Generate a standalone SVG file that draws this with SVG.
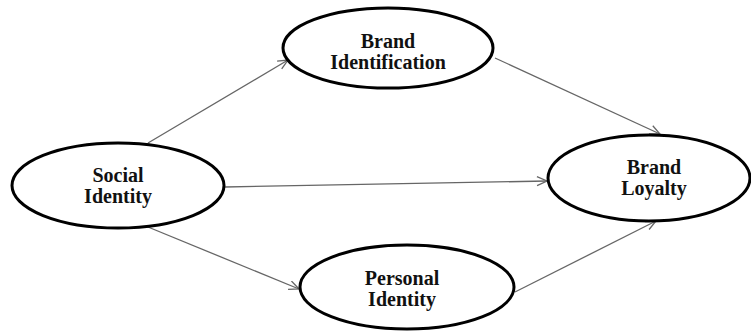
<svg xmlns="http://www.w3.org/2000/svg" width="751" height="331" viewBox="0 0 751 331">
<style>
.node ellipse{fill:#fff;stroke:#000;stroke-width:3}
.node text{font-family:"Liberation Serif","Times New Roman",serif;font-weight:bold;font-size:20px;fill:#111;text-anchor:middle}
.conn line{stroke:#666;stroke-width:1.3;marker-end:url(#arr)}
</style>
<defs>
<marker id="arr" markerUnits="userSpaceOnUse" markerWidth="12" markerHeight="12" refX="11" refY="5" orient="auto">
<path d="M1,0.5 L11,5 L1,9.5" fill="none" stroke="#666" stroke-width="1.3"/>
</marker>
</defs>
<rect width="751" height="331" fill="#fff"/>
<g id="connectors" class="conn">
<line x1="148" y1="143" x2="288" y2="60"/>
<line x1="495" y1="58" x2="660" y2="134"/>
<line x1="225" y1="187" x2="547" y2="181"/>
<line x1="148" y1="227" x2="299" y2="289"/>
<line x1="515" y1="292" x2="656" y2="221"/>
</g>
<g id="social-identity" class="node">
<ellipse cx="118" cy="185.5" rx="106" ry="42.5"/>
<text x="118" y="182">Social</text>
<text x="118" y="203">Identity</text>
</g>
<g id="brand-identification" class="node">
<ellipse cx="388" cy="48" rx="105" ry="40"/>
<text x="388" y="48">Brand</text>
<text x="388" y="69">Identification</text>
</g>
<g id="brand-loyalty" class="node">
<ellipse cx="649" cy="178" rx="101" ry="43"/>
<text x="654" y="174">Brand</text>
<text x="654" y="195">Loyalty</text>
</g>
<g id="personal-identity" class="node">
<ellipse cx="407" cy="287" rx="107" ry="42"/>
<text x="402" y="285">Personal</text>
<text x="402" y="306">Identity</text>
</g>
</svg>
